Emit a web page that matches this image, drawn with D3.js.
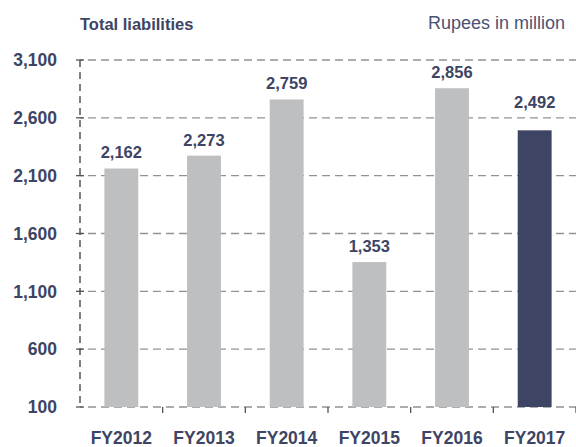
<!DOCTYPE html>
<html>
<head>
<meta charset="utf-8">
<script src="https://cdn.jsdelivr.net/npm/d3@7"></script>
<style>
  body { margin: 0; background: #fff; }
  svg { display: block; font-family: "Liberation Sans", Arial, sans-serif; }
</style>
</head>
<body>
<svg id="chart" width="576" height="447"></svg>
<script>
const years = ['FY2012', 'FY2013', 'FY2014', 'FY2015', 'FY2016', 'FY2017'];
const liabilities = [2162, 2273, 2759, 1353, 2856, 2492];
const yTicks = [100, 600, 1100, 1600, 2100, 2600, 3100];

const svg = d3.select('#chart');
const ink = '#3d4464';
const highlight = 'FY2017';
const data = years.map((y, i) => ({ year: y, value: liabilities[i] }));

const x = d3.scaleBand().domain(years).range([80, 576]).paddingInner(0.59).paddingOuter(0.295);
const y = d3.scaleLinear().domain([100, 3100]).range([407, 60]);

// gridlines
svg.append('g').selectAll('line').data(yTicks).join('line')
  .attr('x1', 80).attr('x2', 576)
  .attr('y1', d => y(d)).attr('y2', d => y(d))
  .attr('stroke', '#929292').attr('stroke-width', 1.3)
  .attr('stroke-dasharray', '8,5').attr('stroke-dashoffset', -8);

// y axis (dashed)
svg.append('line').attr('x1', 80).attr('x2', 80).attr('y1', y(3100)).attr('y2', y(100))
  .attr('stroke', '#555').attr('stroke-width', 1.5).attr('stroke-dasharray', '7,5');
svg.append('g').selectAll('line').data(yTicks).join('line')
  .attr('x1', 76).attr('x2', 84).attr('y1', d => y(d)).attr('y2', d => y(d))
  .attr('stroke', '#555').attr('stroke-width', 1.3);
svg.append('g').selectAll('text').data(yTicks).join('text')
  .attr('x', 57).attr('y', d => y(d) + 6.3).attr('text-anchor', 'end')
  .attr('font-size', 17.5).attr('font-weight', 'bold').attr('fill', ink)
  .text(d => d3.format(',')(d));

// x ticks at band edges
svg.append('g').selectAll('line').data(years).join('line')
  .attr('x1', d => x(d) + x.bandwidth() / 2 + x.step() / 2)
  .attr('x2', d => x(d) + x.bandwidth() / 2 + x.step() / 2)
  .attr('y1', y(100)).attr('y2', y(100) + 6)
  .attr('stroke', '#555').attr('stroke-width', 1.3);

// bars
svg.append('g').selectAll('rect').data(data).join('rect')
  .attr('x', d => x(d.year)).attr('width', x.bandwidth())
  .attr('y', d => y(d.value)).attr('height', d => y(100) - y(d.value))
  .attr('fill', d => d.year === highlight ? '#3d4464' : '#bebfc1');

// value labels (highlighted bar's label sits higher)
svg.append('g').selectAll('text').data(data).join('text')
  .attr('x', d => x(d.year) + x.bandwidth() / 2)
  .attr('y', d => y(d.value) - (d.year === highlight ? 22 : 10))
  .attr('text-anchor', 'middle').attr('font-size', 16.5).attr('font-weight', 'bold').attr('fill', ink)
  .text(d => d3.format(',')(d.value));

// x labels
svg.append('g').selectAll('text').data(years).join('text')
  .attr('x', d => x(d) + x.bandwidth() / 2).attr('y', 444)
  .attr('text-anchor', 'middle').attr('font-size', 17.5).attr('font-weight', 'bold').attr('fill', ink)
  .text(d => d);

// headers
svg.append('text').attr('x', 80).attr('y', 30).attr('font-size', 16.5).attr('font-weight', 'bold')
  .attr('fill', ink).text('Total liabilities');
svg.append('text').attr('x', 565).attr('y', 29).attr('text-anchor', 'end').attr('font-size', 18)
  .attr('fill', '#4b5273').text('Rupees in million');
</script>
</body>
</html>
